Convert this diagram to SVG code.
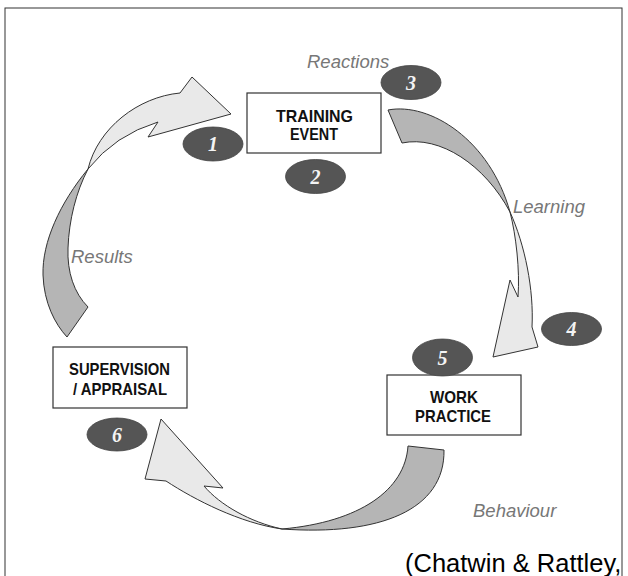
<svg xmlns="http://www.w3.org/2000/svg" width="628" height="576" viewBox="0 0 628 576">
<style>
.frame{fill:#fff;stroke:#333;stroke-width:1}
.box{fill:#fff;stroke:#333;stroke-width:1.2}
.bt{font-family:"Liberation Sans",Arial,sans-serif;font-weight:bold;font-size:17px;fill:#111}
.badge{fill:#555;stroke:#444;stroke-width:0.8}
.num{font-family:"Liberation Serif","Times New Roman",serif;font-weight:bold;font-style:italic;font-size:20px;fill:#f4f4f4;text-anchor:middle}
.lbl{font-family:"Liberation Sans",Arial,sans-serif;font-style:italic;font-size:18.5px;fill:#777}
.light{fill:#e9e9e9;stroke:#333;stroke-width:1;stroke-linejoin:miter}
.dark{fill:#b5b5b5;stroke:#333;stroke-width:1;stroke-linejoin:miter}
.cite{font-family:"Liberation Sans",Arial,sans-serif;font-size:25.5px;fill:#000}
</style>
<rect class="frame" x="5" y="8" width="617" height="590"/>

<g id="connectors">
  <g id="arrow-results">
    <path class="dark" d="M88,169 C60,203 42,242 43,275 C44,303 55,324 67,337 L88,307 C74,293 67,272 68,248 C69,220 76,192 88,169 Z"/>
    <path class="light" d="M88,169 C98,128 138,97 180,93 L192,77 L231,114 L148,137 L158,122 Q115,135 88,169 Z"/>
  </g>
  <g id="arrow-learning">
    <path class="dark" d="M388,110 C430,102 490,140 510,212 C485,165 440,135 402,143 Z"/>
    <path class="light" d="M510,212 C525,245 534,290 532,327 L538,347 L493,357 L510,280 L518,297 C520,270 516,235 510,212 Z"/>
  </g>
  <g id="arrow-behaviour">
    <path class="dark" d="M408,446 L444,450 C445,510 380,536 282,529 C360,522 405,490 408,446 Z"/>
    <path class="light" d="M282,529 C240,523 195,500 166,481 L145,479 L161,419 L223,488 L204,486 C220,505 250,522 282,529 Z"/>
  </g>
</g>

<g id="training-event">
  <rect class="box" x="247" y="93" width="134" height="60"/>
  <text class="bt" x="276" y="122" textLength="77" lengthAdjust="spacingAndGlyphs">TRAINING</text>
  <text class="bt" x="290" y="140" textLength="48" lengthAdjust="spacingAndGlyphs">EVENT</text>
</g>
<g id="supervision-appraisal">
  <rect class="box" x="53" y="347" width="134" height="61"/>
  <text class="bt" x="69" y="375" textLength="101" lengthAdjust="spacingAndGlyphs">SUPERVISION</text>
  <text class="bt" x="73" y="395" textLength="94" lengthAdjust="spacingAndGlyphs">/ APPRAISAL</text>
</g>
<g id="work-practice">
  <rect class="box" x="387" y="375" width="134" height="60"/>
  <text class="bt" x="430" y="403" textLength="48" lengthAdjust="spacingAndGlyphs">WORK</text>
  <text class="bt" x="415" y="422" textLength="76" lengthAdjust="spacingAndGlyphs">PRACTICE</text>
</g>

<g id="badge-1"><ellipse class="badge" cx="213" cy="144" rx="30" ry="17"/><text class="num" x="213" y="151">1</text></g>
<g id="badge-2"><ellipse class="badge" cx="315.5" cy="176.5" rx="30" ry="17"/><text class="num" x="315.5" y="183.5">2</text></g>
<g id="badge-3"><ellipse class="badge" cx="411" cy="82.5" rx="30" ry="17"/><text class="num" x="411" y="89.5">3</text></g>
<g id="badge-4"><ellipse class="badge" cx="571.5" cy="329" rx="30" ry="16.5"/><text class="num" x="571.5" y="336">4</text></g>
<g id="badge-5"><ellipse class="badge" cx="442.5" cy="357.5" rx="30" ry="18.5"/><text class="num" x="442.5" y="364.5">5</text></g>
<g id="badge-6"><ellipse class="badge" cx="117" cy="434.5" rx="30" ry="16.5"/><text class="num" x="117" y="441.5">6</text></g>

<g id="labels">
  <text class="lbl" x="307" y="68">Reactions</text>
  <text class="lbl" x="513" y="213">Learning</text>
  <text class="lbl" x="71" y="263">Results</text>
  <text class="lbl" x="473" y="517">Behaviour</text>
</g>
<text class="cite" x="405" y="572">(Chatwin &amp; Rattley,</text>
</svg>
